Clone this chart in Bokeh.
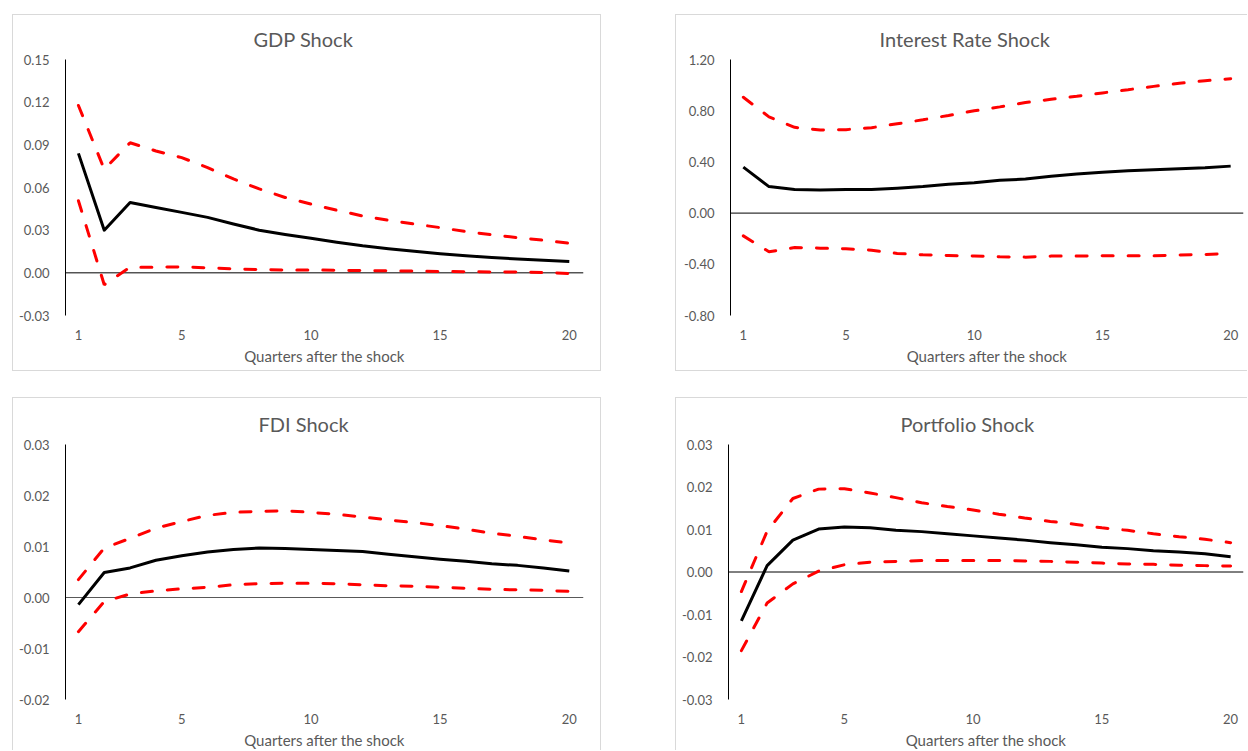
from bokeh.plotting import figure
from bokeh.layouts import column, row
from bokeh.models import Spacer, FixedTicker, Span, NumeralTickFormatter
from bokeh.embed import file_html
from bokeh.resources import INLINE

quarters = [1, 2, 3, 4, 5, 6, 7, 8, 9, 10, 11, 12, 13, 14, 15, 16, 17, 18, 19, 20]
x_ticks = [1, 5, 10, 15, 20]
x_title = "Quarters after the shock"

gdp_title = "GDP Shock"
gdp_median = [0.084, 0.030, 0.0495, 0.046, 0.0425, 0.039, 0.0343, 0.030, 0.027, 0.0243,
              0.0215, 0.019, 0.017, 0.0152, 0.0135, 0.012, 0.0107, 0.0098, 0.0089, 0.008]
gdp_upper = [0.1177, 0.0728, 0.0915, 0.0857, 0.081, 0.074, 0.066, 0.059, 0.053, 0.0483,
             0.044, 0.040, 0.037, 0.0343, 0.0318, 0.029, 0.0268, 0.0247, 0.0229, 0.0208]
gdp_lower = [0.0507, -0.0084, 0.004, 0.004, 0.0042, 0.0035, 0.0028, 0.0023, 0.002, 0.002,
             0.0018, 0.0016, 0.0014, 0.0012, 0.001, 0.0008, 0.0006, 0.0005, 0.0002, -0.0005]
gdp_yticks = [-0.03, 0.0, 0.03, 0.06, 0.09, 0.12, 0.15]

ir_title = "Interest Rate Shock"
ir_median = [0.359, 0.207, 0.184, 0.181, 0.184, 0.184, 0.194, 0.207, 0.225, 0.238,
             0.256, 0.266, 0.287, 0.305, 0.32, 0.331, 0.339, 0.346, 0.354, 0.367]
ir_upper = [0.905, 0.752, 0.67, 0.649, 0.652, 0.667, 0.698, 0.729, 0.763, 0.799,
            0.83, 0.864, 0.889, 0.913, 0.939, 0.964, 0.99, 1.014, 1.034, 1.05]
ir_lower = [-0.178, -0.302, -0.269, -0.274, -0.279, -0.29, -0.315, -0.326, -0.331, -0.336,
            -0.341, -0.344, -0.336, -0.336, -0.334, -0.334, -0.334, -0.328, -0.323, -0.315]
ir_yticks = [-0.8, -0.4, 0.0, 0.4, 0.8, 1.2]

fdi_title = "FDI Shock"
fdi_median = [-0.0014, 0.0049, 0.0058, 0.0073, 0.0082, 0.0089, 0.0094, 0.0097, 0.0096, 0.0094,
              0.0092, 0.009, 0.0085, 0.008, 0.0075, 0.0071, 0.0066, 0.0063, 0.0058, 0.0052]
fdi_upper = [0.0035, 0.0097, 0.0116, 0.0136, 0.0149, 0.0161, 0.0167, 0.0169, 0.017, 0.0167,
             0.0163, 0.0158, 0.0152, 0.0147, 0.0141, 0.0134, 0.0126, 0.012, 0.0113, 0.0107]
fdi_lower = [-0.0067, -0.0008, 0.0007, 0.0013, 0.0017, 0.002, 0.0025, 0.0027, 0.0028, 0.0028,
             0.0027, 0.0025, 0.0023, 0.0022, 0.002, 0.0018, 0.0016, 0.0015, 0.0014, 0.0012]
fdi_yticks = [-0.02, -0.01, 0.0, 0.01, 0.02, 0.03]

pf_title = "Portfolio Shock"
pf_median = [-0.0115, 0.0015, 0.0075, 0.0101, 0.0106, 0.0104, 0.0098, 0.0095, 0.009, 0.0085,
             0.008, 0.0075, 0.0069, 0.0064, 0.0058, 0.0055, 0.005, 0.0047, 0.0043, 0.0036]
pf_upper = [-0.0046, 0.0096, 0.0173, 0.0195, 0.0196, 0.0186, 0.0175, 0.0163, 0.0154, 0.0146,
            0.0136, 0.0127, 0.0119, 0.0112, 0.0104, 0.0098, 0.009, 0.0083, 0.0077, 0.0069]
pf_lower = [-0.0185, -0.0073, -0.0028, 0.0002, 0.0017, 0.0023, 0.0025, 0.0027, 0.0027, 0.0027,
            0.0027, 0.0026, 0.0025, 0.0023, 0.0021, 0.0019, 0.0018, 0.0016, 0.0015, 0.0014]
pf_yticks = [-0.03, -0.02, -0.01, 0.0, 0.01, 0.02, 0.03]

FONT = "Lato"
GREY = "#595959"
BORDER = "1px solid #d9d9d9"


def make_panel(title, median, upper, lower, yticks, width, height, mb, x_end, css,
               zero_color, title_offset, title_standoff):
    left, right, top, bottom = mb
    p = figure(width=width, height=height, x_range=(0.5, x_end),
               y_range=(yticks[0], yticks[-1]), output_backend="svg",
               toolbar_location=None, min_border_left=left, min_border_right=right,
               min_border_top=top, min_border_bottom=bottom,
               background_fill_color="white", border_fill_color="white",
               outline_line_color=None, styles=css)
    p.xgrid.visible = False
    p.ygrid.visible = False

    p.title.text = title
    p.title.align = "left"
    p.title.offset = title_offset
    p.title.standoff = title_standoff
    p.title.text_font = FONT
    p.title.text_font_size = "20px"
    p.title.text_font_style = "normal"
    p.title.text_color = GREY

    p.add_layout(Span(location=0, dimension="width", line_color=zero_color,
                      line_width=1, level="underlay"))

    dash = dict(line_color="#ff0000", line_width=3, line_dash="11 15", line_cap="round")
    p.line(quarters, upper, **dash)
    p.line(quarters, lower, **dash)
    p.line(quarters, median, line_color="black", line_width=3, line_join="round")

    xa = p.xaxis[0]
    xa.ticker = FixedTicker(ticks=x_ticks)
    xa.axis_line_color = None
    xa.major_tick_line_color = None
    xa.minor_tick_line_color = None
    xa.major_label_text_font = FONT
    xa.major_label_text_font_size = "13px"
    xa.major_label_text_color = GREY
    xa.major_label_standoff = 8
    xa.axis_label = x_title
    xa.axis_label_text_font = FONT
    xa.axis_label_text_font_size = "15px"
    xa.axis_label_text_font_style = "normal"
    xa.axis_label_text_color = GREY
    xa.axis_label_standoff = 4

    ya = p.yaxis[0]
    ya.ticker = FixedTicker(ticks=yticks)
    ya.formatter = NumeralTickFormatter(format="0.00")
    ya.axis_line_color = "black"
    ya.axis_line_width = 1
    ya.major_tick_line_color = None
    ya.minor_tick_line_color = None
    ya.major_label_text_font = FONT
    ya.major_label_text_font_size = "13px"
    ya.major_label_text_color = GREY
    ya.major_label_standoff = 10
    return p


pa = make_panel(gdp_title, gdp_median, gdp_upper, gdp_lower, gdp_yticks, 589, 357,
                (52, 19, 44, 54), 20.55, {"border": BORDER, "box-sizing": "border-box"},
                "black", 188, 17)
pb = make_panel(ir_title, ir_median, ir_upper, ir_lower, ir_yticks, 572, 357,
                (54, 5, 40, 57), 20.5, {"border-top": BORDER, "border-left": BORDER,
                                        "border-bottom": BORDER, "box-sizing": "border-box"},
                "black", 149, 17)
pc = make_panel(fdi_title, fdi_median, fdi_upper, fdi_lower, fdi_yticks, 589, 353,
                (52, 19, 46, 52), 20.55, {"border-top": BORDER, "border-left": BORDER,
                                          "border-right": BORDER, "box-sizing": "border-box"},
                GREY, 193, 17)
pd_ = make_panel(pf_title, pf_median, pf_upper, pf_lower, pf_yticks, 572, 353,
                 (52, 5, 40, 49), 20.5, {"border-top": BORDER, "border-left": BORDER,
                                         "box-sizing": "border-box"},
                 "black", 172, 17)

layout = column(
    Spacer(width=1247, height=14),
    row(Spacer(width=12, height=357), pa, Spacer(width=74, height=357), pb),
    Spacer(width=1247, height=26),
    row(Spacer(width=12, height=353), pc, Spacer(width=74, height=353), pd_),
)

open("out.html", "w").write(file_html(layout, INLINE))
